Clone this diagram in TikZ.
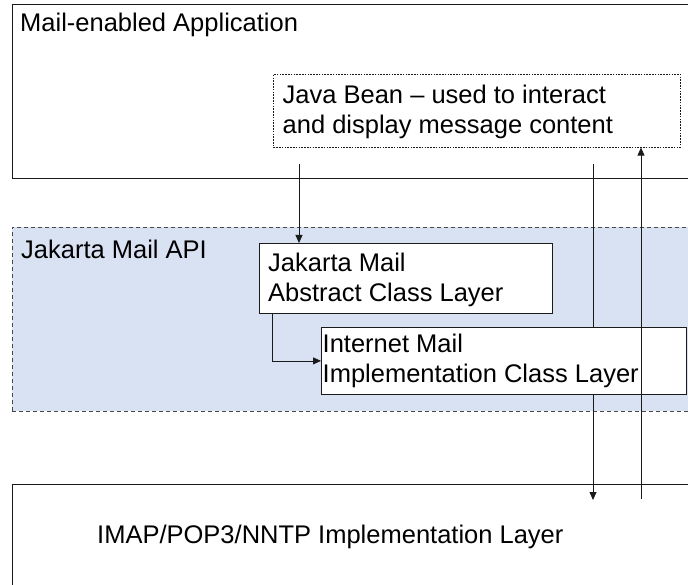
\documentclass[tikz,border=0pt]{standalone}
\usepackage{fontspec}
\setmainfont{Liberation Sans}
\usetikzlibrary{arrows.meta}
\definecolor{apiblue}{HTML}{D9E2F3}
\definecolor{linegray}{HTML}{1A1A1A}
\tikzset{
  layerbox/.style={draw=linegray, line width=0.8pt, fill=white, rectangle, inner sep=0pt, anchor=north west},
  beanbox/.style={draw=linegray, line width=0.6pt, dash pattern=on 1.6pt off 1.2pt, fill=white, rectangle, inner sep=0pt, anchor=north west},
  apiregion/.style={draw=linegray!80, line width=0.7pt, dash pattern=on 4pt off 3pt, fill=apiblue, rectangle, inner sep=0pt, anchor=north west},
  txt/.style={inner sep=0pt, font=\fontsize{25.5}{30.5}\selectfont, align=left, text=black},
  flow/.style={draw=linegray, line width=0.8pt, -{Triangle[length=8pt,width=7pt]}},
  plainline/.style={draw=linegray, line width=0.8pt}
}
\begin{document}
\begin{tikzpicture}[x=1pt,y=-1pt]
\useasboundingbox (0,0) rectangle (688,585);
\clip (0,0) rectangle (688,585);
% outer layers
\node[layerbox, minimum width=700pt, minimum height=174pt] (app) at (12,4) {};
\node[apiregion, minimum width=700pt, minimum height=184pt] (api) at (12,227) {};
\node[layerbox, minimum width=700pt, minimum height=120pt] (impl) at (12,484) {};
% free ends
\coordinate (dnstart) at (593,164);
\coordinate (dnend) at (593,500);
\coordinate (upstart) at (641,499);
\coordinate (beanout) at (299,164);
\coordinate (absout) at (272,313);
% long vertical lines (behind inner boxes)
\draw[flow] (dnstart) -- (dnend);
% inner boxes
\node[beanbox, minimum width=407pt, minimum height=73pt] (bean) at (273,74) {};
\node[layerbox, minimum width=293pt, minimum height=70pt] (abs) at (259,243) {};
\node[layerbox, minimum width=365pt, minimum height=67pt] (inet) at (321,327) {};
\draw[flow] (upstart) -- (upstart |- bean.south);
% arrows
\draw[flow] (beanout) -- (beanout |- abs.north);
\draw[flow] (absout) |- (inet.west);
% texts
\node[txt, anchor=base west] (tapp) at (20,32) {Mail-enabled Application};
\node[txt, anchor=north west] (tbean) at (282.5,84.6) {Java Bean – used to interact\\and display message content};
\node[txt, anchor=base west] (tapi) at (21,259) {Jakarta Mail API};
\node[txt, anchor=north west] (tabs) at (268,252.6) {Jakarta Mail\\Abstract Class Layer};
\node[txt, anchor=north west] (tinet) at (322.5,333.6) {Internet Mail\\Implementation Class Layer};
\node[txt, anchor=base west] (timpl) at (97,543) {IMAP/POP3/NNTP Implementation Layer};
\end{tikzpicture}
\end{document}
